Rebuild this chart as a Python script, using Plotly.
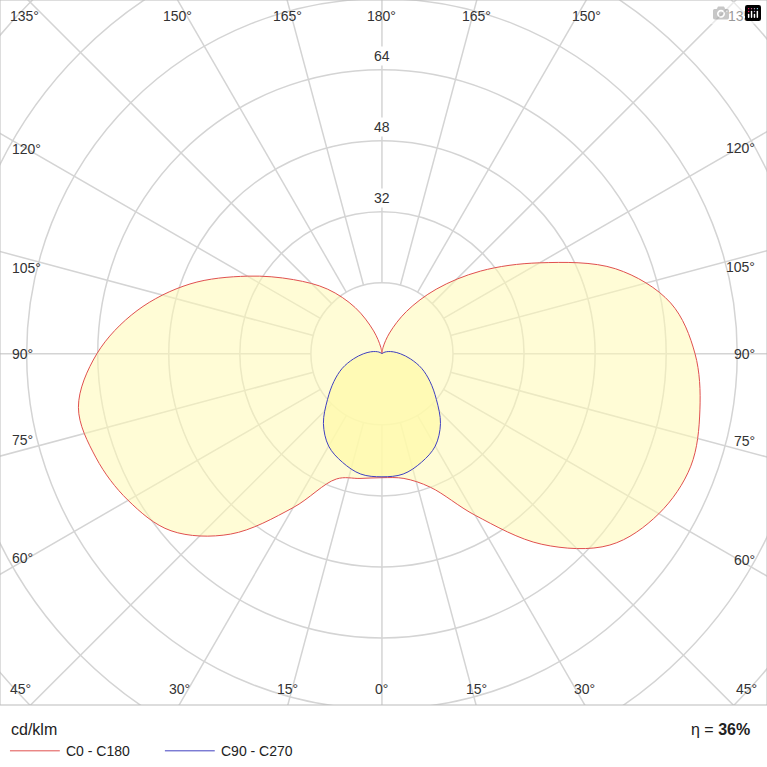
import numpy as np
import plotly.graph_objects as go

# gamma angles (deg) and intensities (cd/klm)
gamma = [0, 10, 20, 30, 40, 50, 60, 70, 80, 90, 100, 110, 120, 130, 140, 150, 160, 170, 180]
c0 = [27.9, 28.5, 32.0, 42.0, 56.0, 67.0, 72.0, 74.0, 72.7, 70.5, 66.0, 56.0, 41.0, 29.0, 19.0, 11.0, 5.0, 1.5, 0.0]
c180 = [27.9, 28.5, 30.0, 40.0, 53.0, 62.0, 66.0, 68.5, 69.4, 64.2, 56.0, 46.0, 35.0, 26.0, 19.0, 12.0, 5.5, 1.5, 0.0]
c90 = [27.7, 27.5, 26.0, 24.0, 20.5, 16.0, 12.5, 9.5, 6.5, 4.2, 2.6, 1.5, 0.8, 0.3, 0.1, 0.0, 0.0, 0.0, 0.0]
c270 = c90
rings = [16, 32, 48, 64, 80, 96, 112, 128]
ring_labels = [32, 48, 64]
ray_angles = list(range(0, 360, 15))

g = np.radians(gamma)
def xy(vals, side):
    v = np.array(vals)
    return side * v * np.sin(g), -v * np.cos(g)

fig = go.Figure()
shapes = []
for r in rings:
    shapes.append(dict(type="circle", x0=-r, x1=r, y0=-r, y1=r,
                       line=dict(color="#d4d4d4", width=1.5), layer="below"))
for a in ray_angles:
    t = np.radians(a)
    shapes.append(dict(type="line", x0=16*np.sin(t), y0=-16*np.cos(t),
                       x1=200*np.sin(t), y1=-200*np.cos(t),
                       line=dict(color="#d4d4d4", width=1.5), layer="below"))

def curve(right, left, color, fill):
    xr, yr = xy(right, 1)
    xl, yl = xy(left, -1)
    x = np.concatenate([xr, xl[::-1]])
    y = np.concatenate([yr, yl[::-1]])
    fig.add_trace(go.Scatter(x=x, y=y, mode="lines", line=dict(color=color, width=1, shape="spline"),
                             fill="toself", fillcolor=fill, showlegend=False, hoverinfo="skip"))

curve(c0, c180, "#e0504f", "rgba(255,250,180,0.55)")
curve(c90, c270, "#4040c0", "rgba(255,250,170,0.75)")

X0, X1, Y0, Y1 = -86.0, 86.7, -79.1, 79.7
ann = []
for r in ring_labels:
    ann.append(dict(x=0, y=r, text=str(r), showarrow=False, yanchor="bottom", yshift=4,
                    font=dict(size=14, color="#333"), bgcolor="white"))
for a in range(0, 181, 15):
    t = np.radians(a)
    for side in ([1, -1] if a not in (0, 180) else [1]):
        dx, dy = side*np.sin(t), -np.cos(t)
        txt = f"{a}°"
        if a in (45, 135):
            ann.append(dict(x=X0 if side < 0 else X1, y=Y0 if a == 45 else Y1, text=txt, showarrow=False,
                            xanchor="left" if side < 0 else "right", xshift=8*(-side),
                            yanchor="bottom" if a == 45 else "top", yshift=6 if a == 45 else -6,
                            font=dict(size=14, color="#333")))
            continue
        ts = []
        if dx > 1e-9: ts.append(X1/dx)
        if dx < -1e-9: ts.append(X0/dx)
        if dy > 1e-9: ts.append(Y1/dy)
        if dy < -1e-9: ts.append(Y0/dy)
        s = min(ts)
        px, py = s*dx, s*dy
        if abs(py - Y1) < 1e-6:
            d = dict(x=px, y=py, xanchor="center", yanchor="top", yshift=-6)
        elif abs(py - Y0) < 1e-6:
            d = dict(x=px, y=py, xanchor="center", yanchor="bottom", yshift=6)
        else:
            d = dict(x=px, y=py, xanchor="left" if side < 0 else "right", xshift=10*(-side),
                     yanchor="middle" if a == 90 else ("top" if a > 90 else "bottom"),
                     yshift=0 if a == 90 else (-6 if a > 90 else 6))
        d.update(text=txt, showarrow=False, font=dict(size=14, color="#333"))
        ann.append(d)

ann += [
    dict(xref="paper", yref="paper", x=0.012, y=-0.035, text="cd/klm", showarrow=False,
         xanchor="left", yanchor="middle", font=dict(size=16, color="#222")),
    dict(xref="paper", yref="paper", x=0.98, y=-0.035, text="η = <b>36%</b>", showarrow=False,
         xanchor="right", yanchor="middle", font=dict(size=16, color="#222")),
    dict(xref="paper", yref="paper", x=0.083, y=-0.065, text="C0 - C180", showarrow=False,
         xanchor="left", yanchor="middle", font=dict(size=14, color="#222")),
    dict(xref="paper", yref="paper", x=0.285, y=-0.065, text="C90 - C270", showarrow=False,
         xanchor="left", yanchor="middle", font=dict(size=14, color="#222")),
]
shapes += [
    dict(type="line", xref="paper", yref="paper", x0=0.013, x1=0.078, y0=-0.065, y1=-0.065,
         line=dict(color="#e0504f", width=1)),
    dict(type="line", xref="paper", yref="paper", x0=0.215, x1=0.28, y0=-0.065, y1=-0.065,
         line=dict(color="#4040c0", width=1)),
    dict(type="rect", xref="paper", yref="paper", x0=0, x1=1, y0=0, y1=1,
         line=dict(color="#bbbbbb", width=1)),
]

fig.update_layout(width=767, height=767, margin=dict(l=0, r=0, t=0, b=62),
                  plot_bgcolor="white", paper_bgcolor="white",
                  font=dict(family="Arial, Liberation Sans"),
                  xaxis=dict(range=[X0, X1], visible=False, fixedrange=True),
                  yaxis=dict(range=[Y0, Y1], visible=False, fixedrange=True),
                  shapes=shapes, annotations=ann, showlegend=False)
fig.write_html("out.html", post_script="document.body.style.margin='0';document.body.style.overflow='hidden';")
